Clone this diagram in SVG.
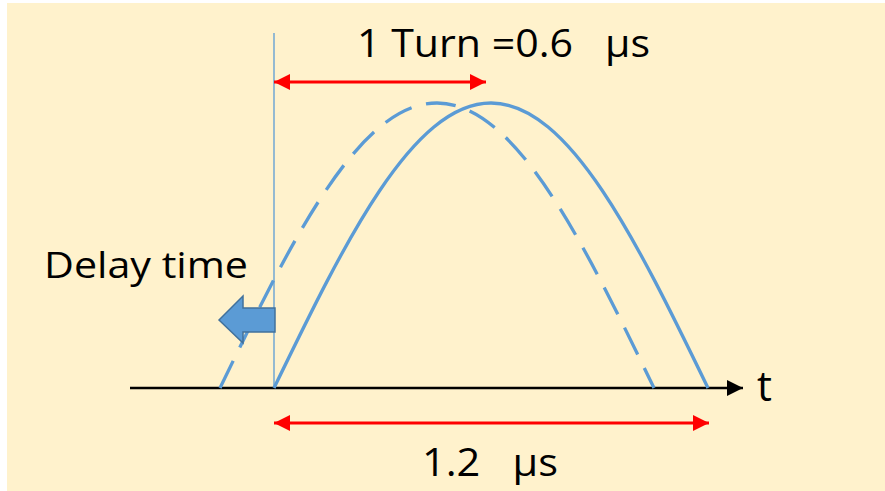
<svg xmlns="http://www.w3.org/2000/svg" width="885" height="491" viewBox="0 0 885 491">
  <style>
    .lbl { font-family: "Open Sans", "Liberation Sans", sans-serif; fill: #000; }
    .wave { fill: none; stroke: #5B9BD5; stroke-width: 3.3; }
    .red { stroke: #FF0000; stroke-width: 3; fill: none; }
  </style>
  <defs>
    <marker id="redHead" viewBox="0 0 16 16" refX="16" refY="8" markerWidth="16" markerHeight="16" markerUnits="userSpaceOnUse" orient="auto-start-reverse">
      <path d="M0,0 L16,8 L0,16 Z" fill="#FF0000"/>
    </marker>
    <marker id="blackHead" viewBox="0 0 16 16" refX="16" refY="8" markerWidth="16" markerHeight="16" markerUnits="userSpaceOnUse" orient="auto">
      <path d="M0,0 L16,8 L0,16 Z" fill="#000"/>
    </marker>
  </defs>
  <rect x="7" y="3" width="878" height="488" fill="#FFF2CC"/>
  <g id="connectors">
    <line x1="274" y1="33" x2="274" y2="388" stroke="#5B9BD5" stroke-width="1.3"/>
    <line x1="130" y1="388" x2="743" y2="388" stroke="#000" stroke-width="2.5" marker-end="url(#blackHead)"/>
    <line class="red" x1="274" y1="82" x2="486" y2="82" marker-start="url(#redHead)" marker-end="url(#redHead)"/>
    <line class="red" x1="274" y1="423" x2="709" y2="423" marker-start="url(#redHead)" marker-end="url(#redHead)"/>
  </g>
  <g id="solid-wave">
    <path class="wave" d="M274,388 C344.77,242 412.47,103 491,103 C569.53,103 637.23,242 708,388"/>
  </g>
  <g id="dashed-wave">
    <path class="wave" stroke-dasharray="30 15" transform="translate(-54,0)" d="M274,388 C344.77,242 412.47,103 491,103 C569.53,103 637.23,242 708,388"/>
  </g>
  <g id="delay-arrow">
    <path d="M219,320 L243,296 L243,308 L275,308 L275,332 L243,332 L243,343 Z" fill="#5B9BD5" stroke="#41719C" stroke-width="1.5"/>
  </g>
  <g id="labels">
    <text class="lbl" x="357" y="57" font-size="39" xml:space="preserve" textLength="293" lengthAdjust="spacingAndGlyphs">1 Turn =0.6   μs</text>
    <text class="lbl" x="44" y="278" font-size="36" textLength="204" lengthAdjust="spacingAndGlyphs">Delay time</text>
    <text class="lbl" x="757" y="401" font-size="42">t</text>
    <text class="lbl" x="422" y="476" font-size="39" xml:space="preserve" textLength="136" lengthAdjust="spacingAndGlyphs">1.2   μs</text>
  </g>
</svg>
